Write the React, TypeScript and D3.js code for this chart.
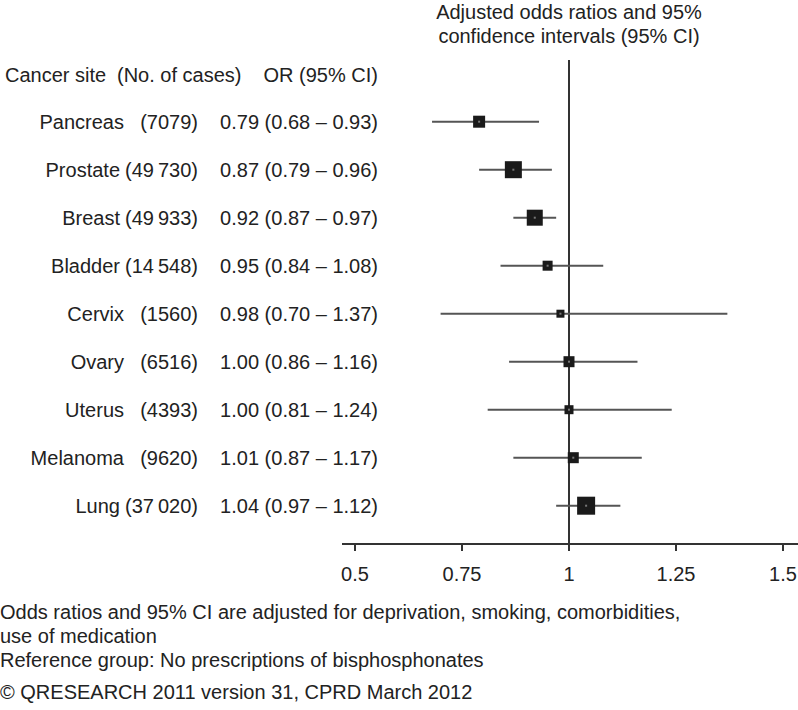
import React from "react";
import * as d3 from "d3";

const sites = ["Pancreas", "Prostate", "Breast", "Bladder", "Cervix", "Ovary", "Uterus", "Melanoma", "Lung"];
const cases = ["(7079)", "(49\u2009730)", "(49\u2009933)", "(14\u2009548)", "(1560)", "(6516)", "(4393)", "(9620)", "(37\u2009020)"];
const orValues = [0.79, 0.87, 0.92, 0.95, 0.98, 1.0, 1.0, 1.01, 1.04];
const lowerCI = [0.68, 0.79, 0.87, 0.84, 0.7, 0.86, 0.81, 0.87, 0.97];
const upperCI = [0.93, 0.96, 0.97, 1.08, 1.37, 1.16, 1.24, 1.17, 1.12];
const boxSizes = [12, 17, 16, 10, 8, 11, 9, 11, 18];
const xTicks = [0.5, 0.75, 1, 1.25, 1.5];
const titleLines = ["Adjusted odds ratios and 95%", "confidence intervals (95% CI)"];
const footnotes = [
  "Odds ratios and 95% CI are adjusted for deprivation, smoking, comorbidities,",
  "use of medication",
  "Reference group: No prescriptions of bisphosphonates",
];
const copyright = "\u00A9 QRESEARCH 2011 version 31, CPRD March 2012";

const fmt = (v: number) => v.toFixed(2);

export default function App() {
  const W = 798;
  const H = 710;
  const fs = 20;
  const font = "'Liberation Sans', Arial, Helvetica, sans-serif";
  const color = "#222";
  const x = d3.scaleLinear().domain([0.5, 1.5]).range([355, 783]);
  const y = d3.scaleLinear().domain([0, sites.length - 1]).range([121.7, 505.7]);
  const axisY = 544;
  const dy = fs * 0.35;

  return (
    <svg width={W} height={H} style={{ position: "absolute", left: 0, top: 0, background: "#fff" }} fontFamily={font} fontSize={fs} fill={color}>
      {titleLines.map((t, i) => (
        <text key={t} x={x(1)} y={12 + i * 23.5 + dy} textAnchor="middle">{t}</text>
      ))}
      <text x={5} y={75 + dy}>Cancer site</text>
      <text x={117} y={75 + dy}>(No. of cases)</text>
      <text x={378} y={75 + dy} textAnchor="end">OR (95% CI)</text>
      {sites.map((s, i) => (
        <g key={s}>
          <text x={cases[i].length > 6 ? 120 : 124} y={y(i) + dy} textAnchor="end">{s}</text>
          <text x={198} y={y(i) + dy} textAnchor="end">{cases[i]}</text>
          <text x={378} y={y(i) + dy} textAnchor="end">{`${fmt(orValues[i])} (${fmt(lowerCI[i])} \u2013 ${fmt(upperCI[i])})`}</text>
        </g>
      ))}
      <line x1={x(1)} x2={x(1)} y1={60} y2={axisY} stroke="#333" strokeWidth={2} />
      {sites.map((s, i) => (
        <g key={s + "ci"}>
          <line x1={x(lowerCI[i])} x2={x(upperCI[i])} y1={y(i)} y2={y(i)} stroke="#555" strokeWidth={2} />
          <rect
            x={x(orValues[i]) - boxSizes[i] / 2}
            y={y(i) - boxSizes[i] / 2}
            width={boxSizes[i]}
            height={boxSizes[i]}
            fill="#1a1a1a"
          />
          <rect x={x(orValues[i]) - 1} y={y(i) - 1} width={2} height={2} fill="#777" />
        </g>
      ))}
      <line x1={342} x2={798} y1={axisY} y2={axisY} stroke="#333" strokeWidth={2} />
      {xTicks.map((t) => (
        <g key={t}>
          <line x1={x(t)} x2={x(t)} y1={axisY} y2={axisY + 7} stroke="#333" strokeWidth={2} />
          <text x={x(t)} y={574 + dy} textAnchor="middle">{String(t)}</text>
        </g>
      ))}
      {footnotes.map((f, i) => (
        <text key={f} x={0} y={[612, 636, 660][i] + dy}>{f}</text>
      ))}
      <text x={0} y={692 + dy}>{copyright}</text>
    </svg>
  );
}
